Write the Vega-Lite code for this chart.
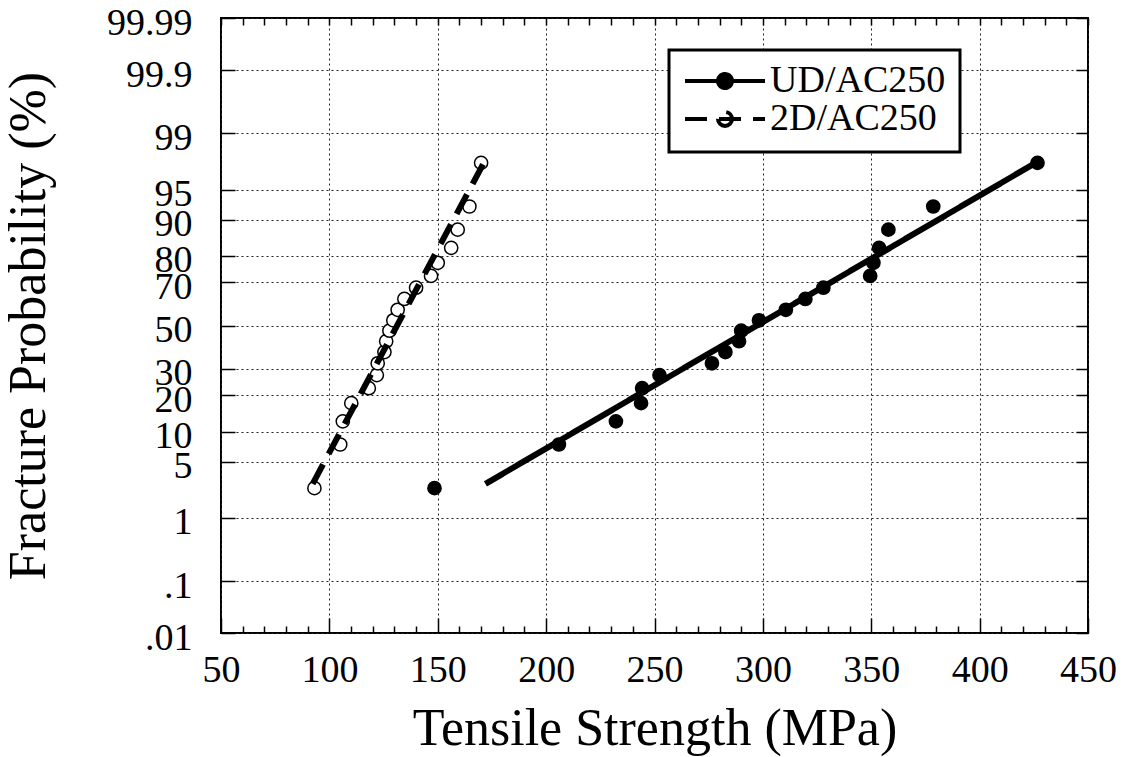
{
  "$schema": "https://vega.github.io/schema/vega-lite/v6.json",
  "width": 867,
  "height": 615,
  "autosize": "none",
  "padding": {"left": 221, "top": 18, "right": 40, "bottom": 124},
  "background": "white",
  "config": {
    "view": {"stroke": "black", "strokeWidth": 2},
    "axis": {
      "labelFont": "Liberation Serif",
      "titleFont": "Liberation Serif",
      "labelColor": "black",
      "titleColor": "black",
      "labelFontSize": 38,
      "titleFontSize": 52,
      "titleFontWeight": "normal",
      "domain": false,
      "tickColor": "black",
      "tickWidth": 1.5,
      "gridColor": "#222",
      "gridDash": [2, 3],
      "gridWidth": 1,
      "labelFlush": false,
      "labelOverlap": false,
      "labelBound": false
    }
  },
  "datasets": {
    "points": [
      {"series": "UD/AC250", "mpa": 148.5, "p": 2.5},
      {"series": "UD/AC250", "mpa": 205.9, "p": 7.5},
      {"series": "UD/AC250", "mpa": 232.2, "p": 12.5},
      {"series": "UD/AC250", "mpa": 243.8, "p": 17.5},
      {"series": "UD/AC250", "mpa": 244.3, "p": 22.5},
      {"series": "UD/AC250", "mpa": 252.3, "p": 27.5},
      {"series": "UD/AC250", "mpa": 276.5, "p": 32.5},
      {"series": "UD/AC250", "mpa": 282.7, "p": 37.5},
      {"series": "UD/AC250", "mpa": 289.0, "p": 42.5},
      {"series": "UD/AC250", "mpa": 290.0, "p": 47.5},
      {"series": "UD/AC250", "mpa": 298.2, "p": 52.5},
      {"series": "UD/AC250", "mpa": 310.6, "p": 57.5},
      {"series": "UD/AC250", "mpa": 319.6, "p": 62.5},
      {"series": "UD/AC250", "mpa": 327.9, "p": 67.5},
      {"series": "UD/AC250", "mpa": 349.5, "p": 72.5},
      {"series": "UD/AC250", "mpa": 351.0, "p": 77.5},
      {"series": "UD/AC250", "mpa": 353.6, "p": 82.5},
      {"series": "UD/AC250", "mpa": 357.9, "p": 87.5},
      {"series": "UD/AC250", "mpa": 378.6, "p": 92.5},
      {"series": "UD/AC250", "mpa": 426.7, "p": 97.5},
      {"series": "2D/AC250", "mpa": 93.1, "p": 2.5},
      {"series": "2D/AC250", "mpa": 105.0, "p": 7.5},
      {"series": "2D/AC250", "mpa": 106.2, "p": 12.5},
      {"series": "2D/AC250", "mpa": 110.1, "p": 17.5},
      {"series": "2D/AC250", "mpa": 118.2, "p": 22.5},
      {"series": "2D/AC250", "mpa": 121.9, "p": 27.5},
      {"series": "2D/AC250", "mpa": 122.3, "p": 32.5},
      {"series": "2D/AC250", "mpa": 125.4, "p": 37.5},
      {"series": "2D/AC250", "mpa": 126.2, "p": 42.5},
      {"series": "2D/AC250", "mpa": 127.7, "p": 47.5},
      {"series": "2D/AC250", "mpa": 129.5, "p": 52.5},
      {"series": "2D/AC250", "mpa": 131.5, "p": 57.5},
      {"series": "2D/AC250", "mpa": 134.6, "p": 62.5},
      {"series": "2D/AC250", "mpa": 140.0, "p": 67.5},
      {"series": "2D/AC250", "mpa": 146.9, "p": 72.5},
      {"series": "2D/AC250", "mpa": 150.0, "p": 77.5},
      {"series": "2D/AC250", "mpa": 156.2, "p": 82.5},
      {"series": "2D/AC250", "mpa": 159.2, "p": 87.5},
      {"series": "2D/AC250", "mpa": 164.6, "p": 92.5},
      {"series": "2D/AC250", "mpa": 170.0, "p": 97.5}
    ],
    "fits": [
      {"series": "UD/AC250", "mpa": 172.0, "p": 2.8},
      {"series": "UD/AC250", "mpa": 427.0, "p": 97.6},
      {"series": "2D/AC250", "mpa": 92.3, "p": 2.8},
      {"series": "2D/AC250", "mpa": 172.3, "p": 97.8}
    ]
  },
  "layer": [
    {
      "data": {"name": "points"},
      "mark": {"type": "point", "filled": true, "shape": "circle", "size": 175, "stroke": "black", "strokeWidth": 1.5, "opacity": 1},
      "encoding": {
        "x": {
          "field": "mpa", "type": "quantitative",
          "scale": {"domain": [50, 450], "nice": false, "zero": false},
          "axis": {
            "orient": "top", "title": null, "labels": false, "grid": false,
            "values": [50,60,70,80,90,100,110,120,130,140,150,160,170,180,190,200,210,220,230,240,250,260,270,280,290,300,310,320,330,340,350,360,370,380,390,400,410,420,430,440,450],
            "tickSize": -7
          }
        },
        "y": {
          "field": "p", "type": "quantitative",
          "scale": {
            "type": "linear", "nice": false, "zero": false,
            "domain": [0.01, 0.1, 0.5, 1, 2, 3, 5, 7.5, 10, 15, 20, 25, 30, 40, 50, 60, 70, 75, 80, 85, 90, 92.5, 95, 97, 98, 99, 99.5, 99.9, 99.99],
            "range": [615, 563.0, 520.5, 499.8, 477.3, 463.0, 443.5, 426.5, 413.5, 393.2, 377.1, 363.3, 350.9, 328.4, 307.5, 286.6, 264.1, 251.7, 237.9, 221.8, 201.5, 188.5, 171.5, 152.0, 137.7, 115.2, 94.5, 52.0, 0]
          },
          "axis": {
            "orient": "right", "title": null, "labels": false, "grid": false,
            "values": [0.01, 0.1, 1, 5, 10, 20, 30, 50, 70, 80, 90, 95, 99, 99.9, 99.99],
            "tickSize": -12
          }
        },
        "fill": {
          "field": "series", "type": "nominal",
          "scale": {"domain": ["2D/AC250", "UD/AC250"], "range": ["white", "black"]},
          "legend": null
        }
      }
    },
    {
      "data": {"name": "fits"},
      "mark": {"type": "line", "stroke": "black", "strokeWidth": 6, "strokeCap": "butt"},
      "encoding": {
        "x": {
          "field": "mpa", "type": "quantitative",
          "axis": {
            "orient": "bottom",
            "title": "Tensile Strength (MPa)",
            "values": [50,60,70,80,90,100,110,120,130,140,150,160,170,180,190,200,210,220,230,240,250,260,270,280,290,300,310,320,330,340,350,360,370,380,390,400,410,420,430,440,450],
            "labelExpr": "datum.value % 50 === 0 ? datum.label : ''",
            "format": "d",
            "grid": true,
            "gridOpacity": {"condition": {"test": "datum.value % 50 === 0", "value": 1}, "value": 0},
            "tickSize": {"condition": {"test": "datum.value % 50 === 0", "value": -15}, "value": -7},
            "labelPadding": 33,
            "titlePadding": 6
          }
        },
        "y": {
          "field": "p", "type": "quantitative",
          "axis": {
            "orient": "left",
            "title": "Fracture Probability (%)",
            "values": [0.01, 0.1, 1, 5, 10, 20, 30, 50, 70, 80, 90, 95, 99, 99.9, 99.99],
            "labelExpr": "datum.value < 1 ? replace(toString(datum.value), '0.', '.') : toString(datum.value)",
            "grid": true,
            "tickSize": -14,
            "labelPadding": 43,
            "labelOffset": 5,
            "titlePadding": 51
          }
        },
        "strokeDash": {
          "field": "series", "type": "nominal",
          "scale": {"domain": ["UD/AC250", "2D/AC250"], "range": [[1, 0], [22, 12]]},
          "legend": {
            "title": null,
            "orient": "none",
            "legendX": 448,
            "legendY": 32,
            "padding": 14,
            "strokeColor": "black",
            "fillColor": "white",
            "labelFont": "Liberation Serif",
            "labelFontSize": 38,
            "labelColor": "black",
            "labelLimit": 400,
            "labelOffset": 3,
            "rowPadding": 0,
            "clipHeight": 34,
            "symbolType": "M-1,0H1M0.175,0A0.175,0.175,0,1,1,-0.175,0A0.175,0.175,0,1,1,0.175,0Z",
            "symbolSize": 6400,
            "symbolStrokeWidth": 4,
            "symbolStrokeColor": "black",
            "encode": {
              "symbols": {
                "update": {
                  "fill": {"signal": "datum.value === 'UD/AC250' ? 'black' : 'white'"},
                  "fillOpacity": {"value": 1},
                  "stroke": {"value": "black"},
                  "strokeWidth": {"value": 4},
                  "opacity": {"value": 1}
                }
              },
              "legend": {
                "update": {
                  "strokeWidth": {"value": 3}
                }
              }
            }
          }
        }
      }
    }
  ],
  "resolve": {"axis": {"x": "independent", "y": "independent"}}
}
